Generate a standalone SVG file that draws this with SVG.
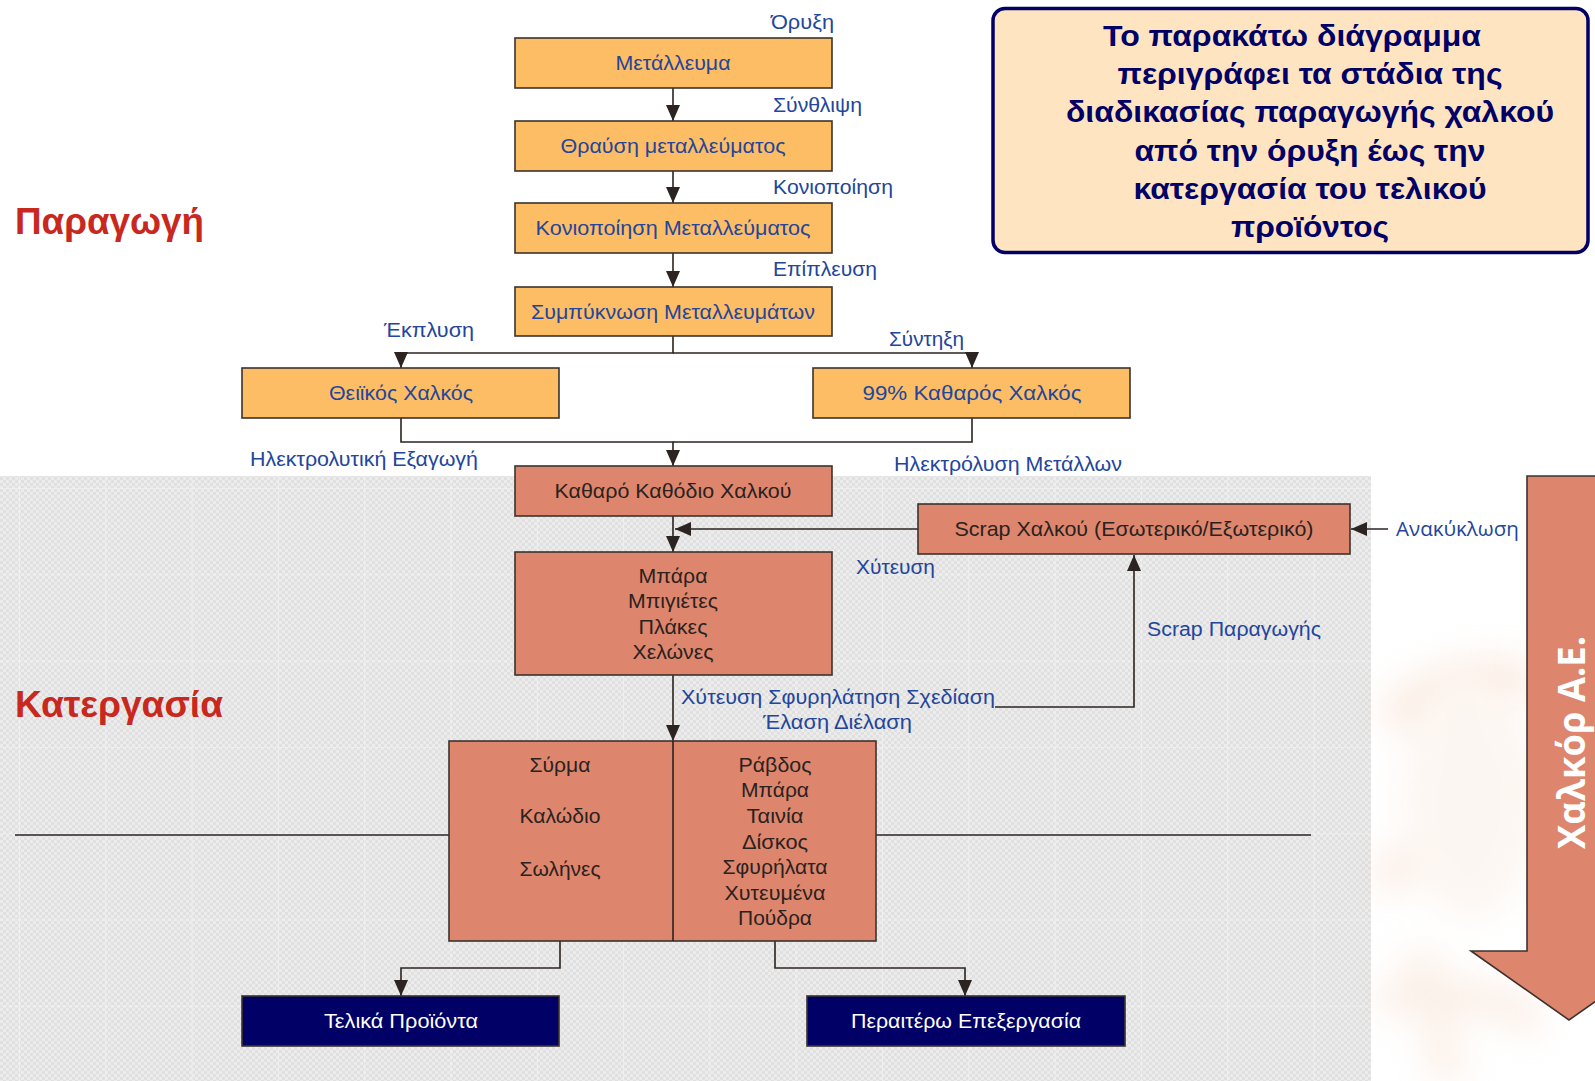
<svg xmlns="http://www.w3.org/2000/svg" width="1595" height="1081" viewBox="0 0 1595 1081">
<defs>
<style>
.lbl{font-family:"Liberation Sans",Arial,sans-serif;font-size:21px;fill:#23459b}
.lblw{font-family:"Liberation Sans",Arial,sans-serif;font-size:20px;fill:#23459b}
.lblo{font-family:"Open Sans","Liberation Sans",sans-serif;font-size:20px;fill:#23459b}
.ot{font-family:"Liberation Sans",Arial,sans-serif;font-size:21px;fill:#23459b;text-anchor:middle}
.st{font-family:"Liberation Sans",Arial,sans-serif;font-size:21px;fill:#2a2220;text-anchor:middle}
.nt{font-family:"Liberation Sans",Arial,sans-serif;font-size:21px;fill:#ffffff;text-anchor:middle}
.orange{fill:#fdbd65;stroke:#3b332e;stroke-width:1.6}
.salmon{fill:#de866d;stroke:#3b332e;stroke-width:1.6}
.navy{fill:#000066;stroke:#3b332e;stroke-width:1.6}
.conn{fill:none;stroke:#2b2420;stroke-width:1.6}
.title{font-family:"Liberation Sans",Arial,sans-serif;font-size:37px;font-weight:bold;fill:#c8281e}
.info{font-family:"Liberation Sans",Arial,sans-serif;font-size:30px;font-weight:bold;fill:#000066;text-anchor:middle}
</style>
<pattern id="dots" width="6" height="6" patternUnits="userSpaceOnUse">
<rect width="6" height="6" fill="#e0e0e0"/>
<rect width="3" height="3" fill="#ececec"/>
<rect x="3" y="3" width="3" height="3" fill="#ececec"/>
</pattern>
<pattern id="grid" x="19" y="488" width="86.3" height="86.3" patternUnits="userSpaceOnUse">
<path d="M0,0 H86.3 M0,0 V86.3" stroke="#f6f6f6" stroke-width="1.2" fill="none"/>
</pattern>
<marker id="ah" markerUnits="userSpaceOnUse" markerWidth="16" markerHeight="14" refX="16" refY="7" orient="auto">
<path d="M0,0 L16,7 L0,14 Z" fill="#2b2420"/>
</marker>
<filter id="blur" x="-50%" y="-50%" width="200%" height="200%"><feGaussianBlur stdDeviation="16"/></filter>
</defs>

<rect width="1595" height="1081" fill="#ffffff"/>
<g id="background">
<rect x="0" y="476" width="1371" height="605" fill="url(#dots)"/>
<rect x="0" y="476" width="1371" height="605" fill="url(#grid)"/>
<g filter="url(#blur)" opacity="0.22">
<path d="M1380,700 Q1450,640 1530,660 L1540,700 Q1460,690 1390,740 Z" fill="#f0b48e"/>
<path d="M1375,860 Q1460,800 1540,760 L1545,800 Q1470,840 1385,900 Z" fill="#eeb08a"/>
<path d="M1400,950 L1430,1080 L1470,1080 L1440,950 Z" fill="#f3c6a6"/>
<ellipse cx="1470" cy="800" rx="70" ry="120" fill="#f6dac6"/>
<path d="M1380,980 Q1450,960 1540,1000 L1540,1040 Q1450,1000 1380,1020 Z" fill="#f0bfa0"/>
</g>
</g>

<text class="title" x="15" y="234" textLength="189" lengthAdjust="spacingAndGlyphs">Παραγωγή</text>
<text class="title" x="15" y="717" textLength="208" lengthAdjust="spacingAndGlyphs">Κατεργασία</text>

<g id="separator">
<path class="conn" d="M15,835 H449 M876,835 H1311"/>
</g>

<g id="info">
<rect x="993" y="8.5" width="595" height="244" rx="12" ry="12" fill="#ffe4c2" stroke="#000066" stroke-width="3.5"/>
<text class="info" x="1292" y="46" textLength="378" lengthAdjust="spacingAndGlyphs">Το παρακάτω διάγραμμα</text>
<text class="info" x="1310" y="84" textLength="385" lengthAdjust="spacingAndGlyphs">περιγράφει τα στάδια της</text>
<text class="info" x="1310" y="122" textLength="488" lengthAdjust="spacingAndGlyphs">διαδικασίας παραγωγής χαλκού</text>
<text class="info" x="1310" y="161" textLength="351" lengthAdjust="spacingAndGlyphs">από την όρυξη έως την</text>
<text class="info" x="1310" y="199" textLength="353" lengthAdjust="spacingAndGlyphs">κατεργασία του τελικού</text>
<text class="info" x="1310" y="237" textLength="158" lengthAdjust="spacingAndGlyphs">προϊόντος</text>
</g>

<g id="company-arrow">
<path d="M1527,476 H1610 V951 H1667 L1569,1020 L1471,951 H1527 Z" fill="#de866d" stroke="#3b332e" stroke-width="1.6"/>
<text transform="translate(1585,742.5) rotate(-90)" text-anchor="middle" font-family="'Open Sans','Liberation Sans',sans-serif" font-weight="bold" font-size="37" fill="#ffffff" textLength="213" lengthAdjust="spacingAndGlyphs">Χαλκόρ Α.Ε.</text>
</g>

<g id="connectors">
<path class="conn" d="M673,88 V121" marker-end="url(#ah)"/>
<path class="conn" d="M673,171 V203" marker-end="url(#ah)"/>
<path class="conn" d="M673,253 V287" marker-end="url(#ah)"/>
<path class="conn" d="M673,336 V353 H401 V368" marker-end="url(#ah)"/>
<path class="conn" d="M673,353 H972 V368" marker-end="url(#ah)"/>
<path class="conn" d="M401,418 V442 H673 V466" marker-end="url(#ah)"/>
<path class="conn" d="M972,418 V442 H673"/>
<path class="conn" d="M673,516 V552" marker-end="url(#ah)"/>
<path class="conn" d="M918,529 H675" marker-end="url(#ah)"/>
<path class="conn" d="M1388,529 H1351" marker-end="url(#ah)"/>
<path class="conn" d="M673,675 V741" marker-end="url(#ah)"/>
<path class="conn" d="M995,707 H1134 V555" marker-end="url(#ah)"/>
<path class="conn" d="M560,941 V968 H401 V996" marker-end="url(#ah)"/>
<path class="conn" d="M775,941 V968 H965 V996" marker-end="url(#ah)"/>
</g>

<g id="edge-labels">
<text class="lbl" x="771" y="29" textLength="63" lengthAdjust="spacingAndGlyphs">Όρυξη</text>
<text class="lbl" x="773" y="112" textLength="89" lengthAdjust="spacingAndGlyphs">Σύνθλιψη</text>
<text class="lbl" x="773" y="194" textLength="120" lengthAdjust="spacingAndGlyphs">Κονιοποίηση</text>
<text class="lbl" x="773" y="276" textLength="104" lengthAdjust="spacingAndGlyphs">Επίπλευση</text>
<text class="lbl" x="384" y="337" textLength="90" lengthAdjust="spacingAndGlyphs">Έκπλυση</text>
<text class="lbl" x="889" y="346" textLength="75" lengthAdjust="spacingAndGlyphs">Σύντηξη</text>
<text class="lbl" x="250" y="466" textLength="228" lengthAdjust="spacingAndGlyphs">Ηλεκτρολυτική Εξαγωγή</text>
<text class="lbl" x="894" y="471" textLength="228" lengthAdjust="spacingAndGlyphs">Ηλεκτρόλυση Μετάλλων</text>
<text class="lbl" x="856" y="574" textLength="79" lengthAdjust="spacingAndGlyphs">Χύτευση</text>
<text class="lblw" x="1147" y="636" textLength="174" lengthAdjust="spacingAndGlyphs">Scrap Παραγωγής</text>
<text class="lbl" x="681" y="704" textLength="314" lengthAdjust="spacingAndGlyphs">Χύτευση  Σφυρηλάτηση Σχεδίαση</text>
<text class="lbl" x="763" y="729" textLength="149" lengthAdjust="spacingAndGlyphs">Έλαση Διέλαση</text>
<text class="lblo" x="1396" y="536" textLength="123" lengthAdjust="spacingAndGlyphs">Ανακύκλωση</text>
</g>

<g id="n-metalleuma">
<rect class="orange" x="515" y="38" width="317" height="50"/>
<text class="ot" x="673" y="70" textLength="115" lengthAdjust="spacingAndGlyphs">Μετάλλευμα</text>
</g>
<g id="n-thrausi">
<rect class="orange" x="515" y="121" width="317" height="50"/>
<text class="ot" x="673" y="153" textLength="225" lengthAdjust="spacingAndGlyphs">Θραύση μεταλλεύματος</text>
</g>
<g id="n-konio">
<rect class="orange" x="515" y="203" width="317" height="50"/>
<text class="ot" x="673" y="235" textLength="275" lengthAdjust="spacingAndGlyphs">Κονιοποίηση Μεταλλεύματος</text>
</g>
<g id="n-sympyknosi">
<rect class="orange" x="515" y="287" width="317" height="49"/>
<text class="ot" x="673" y="318.5" textLength="284" lengthAdjust="spacingAndGlyphs">Συμπύκνωση Μεταλλευμάτων</text>
</g>
<g id="n-theiikos">
<rect class="orange" x="242" y="368" width="317" height="50"/>
<text class="ot" x="401" y="400" textLength="144" lengthAdjust="spacingAndGlyphs">Θειϊκός Χαλκός</text>
</g>
<g id="n-katharos99">
<rect class="orange" x="813" y="368" width="317" height="50"/>
<text class="ot" x="972" y="400" textLength="219" lengthAdjust="spacingAndGlyphs">99% Καθαρός Χαλκός</text>
</g>
<g id="n-kathodio">
<rect class="salmon" x="515" y="466" width="317" height="50"/>
<text class="st" x="673" y="498" textLength="237" lengthAdjust="spacingAndGlyphs">Καθαρό Καθόδιο Χαλκού</text>
</g>
<g id="n-scrap">
<rect class="salmon" x="918" y="504" width="432" height="50"/>
<text class="st" x="1134" y="536" font-size="20" textLength="359" lengthAdjust="spacingAndGlyphs">Scrap Χαλκού (Εσωτερικό/Εξωτερικό)</text>
</g>
<g id="n-mpara">
<rect class="salmon" x="515" y="552" width="317" height="123"/>
<text class="st" x="673" y="583" textLength="69" lengthAdjust="spacingAndGlyphs">Μπάρα</text>
<text class="st" x="673" y="608" textLength="90" lengthAdjust="spacingAndGlyphs">Μπιγιέτες</text>
<text class="st" x="673" y="634" textLength="69" lengthAdjust="spacingAndGlyphs">Πλάκες</text>
<text class="st" x="673" y="659" textLength="81" lengthAdjust="spacingAndGlyphs">Χελώνες</text>
</g>
<g id="n-products">
<rect class="salmon" x="449" y="741" width="427" height="200"/>
<line x1="673" y1="741" x2="673" y2="941" stroke="#2b2420" stroke-width="1.6"/>
<text class="st" x="560" y="772" textLength="61" lengthAdjust="spacingAndGlyphs">Σύρμα</text>
<text class="st" x="560" y="823" textLength="81" lengthAdjust="spacingAndGlyphs">Καλώδιο</text>
<text class="st" x="560" y="876" textLength="81" lengthAdjust="spacingAndGlyphs">Σωλήνες</text>
<text class="st" x="775" y="772" textLength="73" lengthAdjust="spacingAndGlyphs">Ράβδος</text>
<text class="st" x="775" y="797" textLength="68" lengthAdjust="spacingAndGlyphs">Μπάρα</text>
<text class="st" x="775" y="823" textLength="57" lengthAdjust="spacingAndGlyphs">Ταινία</text>
<text class="st" x="775" y="849" textLength="66" lengthAdjust="spacingAndGlyphs">Δίσκος</text>
<text class="st" x="775" y="874" textLength="105" lengthAdjust="spacingAndGlyphs">Σφυρήλατα</text>
<text class="st" x="775" y="900" textLength="101" lengthAdjust="spacingAndGlyphs">Χυτευμένα</text>
<text class="st" x="775" y="925" textLength="74" lengthAdjust="spacingAndGlyphs">Πούδρα</text>
</g>
<g id="n-telika">
<rect class="navy" x="242" y="996" width="317" height="50"/>
<text class="nt" x="401" y="1028" textLength="154" lengthAdjust="spacingAndGlyphs">Τελικά Προϊόντα</text>
</g>
<g id="n-peraitero">
<rect class="navy" x="807" y="996" width="318" height="50"/>
<text class="nt" x="966" y="1028" textLength="230" lengthAdjust="spacingAndGlyphs">Περαιτέρω Επεξεργασία</text>
</g>
</svg>
